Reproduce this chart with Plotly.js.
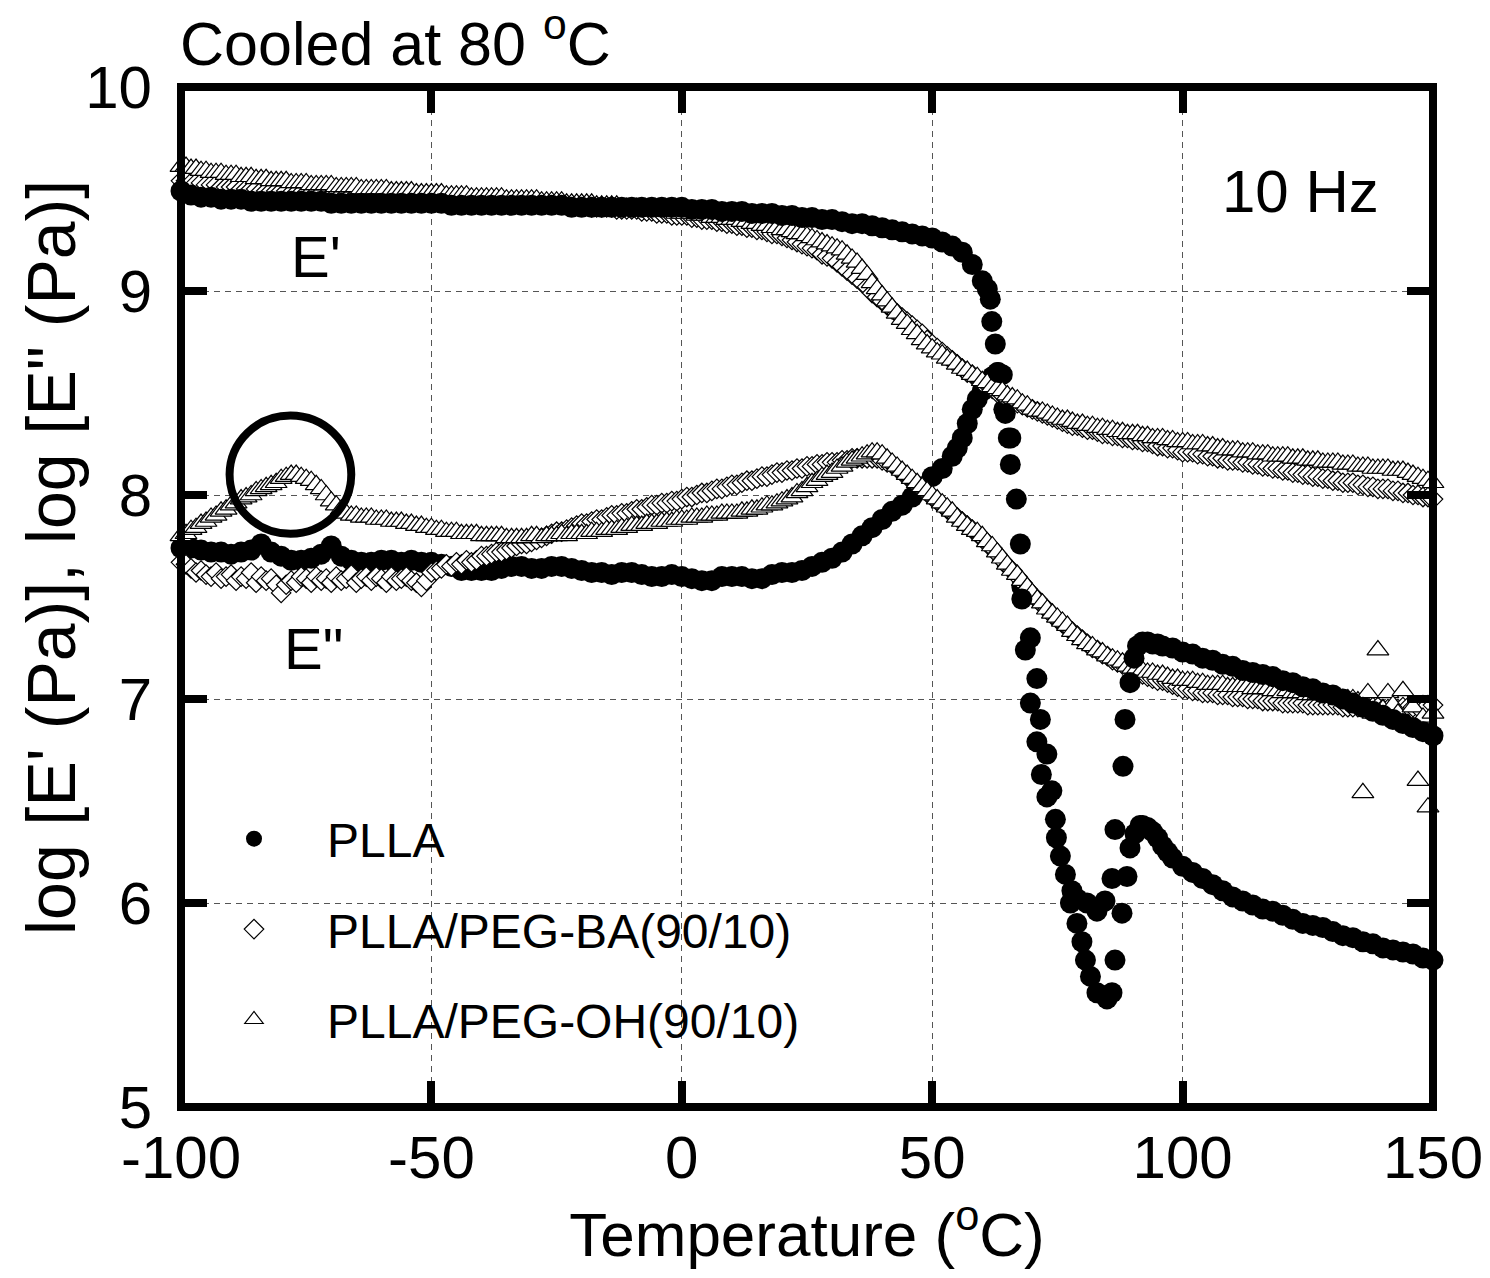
<!DOCTYPE html>
<html>
<head>
<meta charset="utf-8">
<script src="https://cdn.plot.ly/plotly-3.0.1.min.js"></script>
<style>html,body{margin:0;padding:0;background:#fff;} #chart{width:1490px;height:1278px;}</style>
</head>
<body>
<div id="chart"></div>
<script>
// ---------- data ----------
const seriesNames = ['PLLA', 'PLLA/PEG-BA(90/10)', 'PLLA/PEG-OH(90/10)'];
const xTicks = [-100, -50, 0, 50, 100, 150];
const yTicks = [5, 6, 7, 8, 9, 10];

// temperature grid for the blend samples (°C)
const temps = [
-100,-99,-98,-97,-96,-95,-94,-93,-92,-91,
-90,-89,-88,-87,-86,-85,-84,-83,-82,-81,
-80,-79,-78,-77,-76,-75,-74,-73,-72,-71,
-70,-69,-68,-67,-66,-65,-64,-63,-62,-61,
-60,-59,-58,-57,-56,-55,-54,-53,-52,-51,
-50,-49,-48,-47,-46,-45,-44,-43,-42,-41,
-40,-39,-38,-37,-36,-35,-34,-33,-32,-31,
-30,-29,-28,-27,-26,-25,-24,-23,-22,-21,
-20,-19,-18,-17,-16,-15,-14,-13,-12,-11,
-10,-9,-8,-7,-6,-5,-4,-3,-2,-1,
0,1,2,3,4,5,6,7,8,9,
10,11,12,13,14,15,16,17,18,19,
20,21,22,23,24,25,26,27,28,29,
30,31,32,33,34,35,36,37,38,39,
40,41,42,43,44,45,46,47,48,49,
50,51,52,53,54,55,56,57,58,59,
60,61,62,63,64,65,66,67,68,69,
70,71,72,73,74,75,76,77,78,79,
80,81,82,83,84,85,86,87,88,89,
90,91,92,93,94,95,96,97,98,99,
100,101,102,103,104,105,106,107,108,109,
110,111,112,113,114,115,116,117,118,119,
120,121,122,123,124,125,126,127,128,129,
130,131,132,133,134,135,136,137,138,139,
140,141,142,143,144,145,146,147,148,149,
150];

// PLLA/PEG-OH(90/10): log E' (triangles, upper)
const ohStorage = [
9.61,9.61,9.60,9.60,9.59,9.59,9.58,9.58,9.58,9.57,
9.57,9.57,9.56,9.56,9.56,9.55,9.55,9.55,9.54,9.54,
9.54,9.54,9.53,9.53,9.53,9.53,9.52,9.52,9.52,9.52,
9.52,9.51,9.51,9.51,9.51,9.51,9.50,9.50,9.50,9.50,
9.50,9.50,9.49,9.49,9.49,9.49,9.49,9.48,9.48,9.48,
9.48,9.48,9.48,9.47,9.47,9.47,9.47,9.47,9.46,9.46,
9.46,9.46,9.46,9.46,9.46,9.45,9.45,9.45,9.45,9.45,
9.45,9.45,9.44,9.44,9.44,9.44,9.44,9.43,9.43,9.43,
9.43,9.43,9.43,9.42,9.42,9.42,9.42,9.42,9.41,9.41,
9.41,9.41,9.40,9.40,9.40,9.40,9.39,9.39,9.39,9.38,
9.38,9.38,9.38,9.37,9.37,9.37,9.36,9.36,9.36,9.35,
9.35,9.35,9.34,9.34,9.33,9.33,9.32,9.32,9.31,9.31,
9.30,9.30,9.29,9.28,9.28,9.27,9.26,9.25,9.24,9.23,
9.22,9.21,9.20,9.18,9.16,9.14,9.11,9.08,9.04,9.01,
8.98,8.95,8.92,8.89,8.86,8.84,8.81,8.79,8.76,8.74,
8.72,8.70,8.69,8.67,8.66,8.64,8.62,8.61,8.59,8.58,
8.56,8.55,8.53,8.52,8.51,8.49,8.48,8.47,8.45,8.44,
8.42,8.41,8.41,8.40,8.39,8.38,8.37,8.37,8.36,8.35,
8.35,8.34,8.34,8.33,8.33,8.32,8.32,8.31,8.31,8.30,
8.30,8.30,8.29,8.29,8.28,8.28,8.28,8.27,8.27,8.26,
8.26,8.26,8.25,8.25,8.25,8.24,8.24,8.23,8.23,8.22,
8.22,8.22,8.21,8.21,8.21,8.20,8.20,8.20,8.19,8.19,
8.19,8.19,8.18,8.18,8.18,8.17,8.17,8.17,8.16,8.16,
8.16,8.16,8.15,8.15,8.15,8.14,8.14,8.14,8.13,8.13,
8.13,8.13,8.12,8.12,8.12,8.11,8.10,8.09,8.08,8.07,
8.06];

// PLLA/PEG-OH(90/10): log E'' (triangles, lower)
const ohLoss = [
7.80,7.81,7.83,7.84,7.86,7.87,7.89,7.90,7.92,7.93,
7.95,7.96,7.98,7.99,8.00,8.02,8.03,8.04,8.05,8.06,
8.08,8.09,8.10,8.10,8.09,8.08,8.07,8.05,8.03,8.00,
7.97,7.95,7.93,7.91,7.90,7.90,7.89,7.89,7.89,7.88,
7.88,7.88,7.87,7.87,7.87,7.86,7.86,7.85,7.85,7.84,
7.84,7.83,7.83,7.82,7.82,7.82,7.81,7.81,7.81,7.81,
7.80,7.80,7.80,7.80,7.80,7.79,7.79,7.79,7.79,7.79,
7.80,7.80,7.79,7.80,7.80,7.80,7.81,7.80,7.81,7.81,
7.81,7.81,7.82,7.82,7.82,7.83,7.83,7.83,7.84,7.84,
7.85,7.85,7.85,7.86,7.86,7.86,7.87,7.87,7.87,7.88,
7.88,7.88,7.89,7.89,7.89,7.90,7.90,7.90,7.91,7.91,
7.91,7.91,7.92,7.92,7.93,7.93,7.94,7.95,7.95,7.96,
7.97,7.98,7.99,8.01,8.02,8.04,8.06,8.07,8.09,8.10,
8.11,8.13,8.14,8.16,8.17,8.18,8.19,8.20,8.21,8.21,
8.20,8.18,8.16,8.14,8.12,8.10,8.08,8.06,8.04,8.02,
8.00,7.98,7.96,7.94,7.92,7.89,7.87,7.85,7.83,7.82,
7.80,7.77,7.75,7.72,7.69,7.66,7.63,7.61,7.58,7.55,
7.52,7.49,7.47,7.44,7.42,7.40,7.38,7.36,7.33,7.31,
7.29,7.27,7.26,7.24,7.23,7.21,7.20,7.19,7.18,7.16,
7.15,7.15,7.14,7.13,7.13,7.12,7.12,7.11,7.10,7.10,
7.09,7.09,7.09,7.08,7.08,7.07,7.07,7.07,7.07,7.06,
7.06,7.06,7.06,7.06,7.05,7.05,7.05,7.05,7.04,7.04,
7.03,7.04,7.03,7.03,7.03,7.02,7.02,7.02,7.02,7.01,
7.01,7.01,7.00,7.00,7.00,6.99,6.54,7.03,6.93,7.24,
6.95,7.03,6.97,6.93,7.04,6.88,6.96,6.60,6.91,6.47,
6.93];

// PLLA/PEG-BA(90/10): log E' (diamonds, upper)
const baStorage = [
9.54,9.54,9.53,9.53,9.53,9.52,9.52,9.52,9.51,9.51,
9.51,9.51,9.50,9.50,9.50,9.50,9.49,9.49,9.49,9.49,
9.49,9.49,9.48,9.48,9.48,9.48,9.48,9.48,9.48,9.47,
9.47,9.47,9.47,9.47,9.47,9.47,9.47,9.47,9.47,9.47,
9.47,9.47,9.46,9.46,9.46,9.46,9.46,9.46,9.46,9.46,
9.46,9.46,9.46,9.46,9.46,9.45,9.45,9.45,9.45,9.45,
9.45,9.45,9.45,9.45,9.44,9.44,9.44,9.44,9.44,9.44,
9.44,9.43,9.43,9.43,9.43,9.43,9.43,9.42,9.42,9.42,
9.42,9.42,9.41,9.41,9.41,9.41,9.41,9.40,9.40,9.40,
9.40,9.40,9.39,9.39,9.39,9.38,9.38,9.38,9.37,9.37,
9.37,9.37,9.36,9.36,9.35,9.35,9.35,9.34,9.34,9.33,
9.33,9.32,9.32,9.31,9.31,9.30,9.30,9.29,9.28,9.28,
9.27,9.26,9.25,9.24,9.23,9.22,9.21,9.20,9.18,9.17,
9.16,9.14,9.12,9.10,9.08,9.06,9.04,9.02,8.99,8.97,
8.95,8.93,8.91,8.89,8.87,8.85,8.83,8.81,8.79,8.76,
8.74,8.72,8.70,8.68,8.66,8.64,8.62,8.60,8.59,8.57,
8.55,8.54,8.52,8.50,8.49,8.47,8.46,8.45,8.44,8.43,
8.42,8.41,8.40,8.39,8.38,8.37,8.36,8.35,8.34,8.34,
8.33,8.32,8.32,8.31,8.30,8.30,8.29,8.29,8.28,8.28,
8.27,8.27,8.26,8.26,8.25,8.24,8.24,8.23,8.23,8.22,
8.21,8.21,8.21,8.20,8.20,8.19,8.19,8.18,8.18,8.17,
8.17,8.17,8.16,8.16,8.15,8.15,8.14,8.14,8.13,8.13,
8.12,8.12,8.11,8.11,8.10,8.10,8.09,8.09,8.08,8.08,
8.07,8.07,8.06,8.06,8.06,8.05,8.05,8.04,8.04,8.03,
8.03,8.03,8.02,8.02,8.01,8.01,8.00,8.00,7.99,7.99,
7.98];

// PLLA/PEG-BA(90/10): log E'' (diamonds, lower)
const baLoss = [
7.67,7.66,7.64,7.62,7.63,7.61,7.60,7.62,7.59,7.60,
7.61,7.58,7.60,7.59,7.62,7.57,7.60,7.58,7.59,7.56,
7.52,7.56,7.58,7.57,7.60,7.59,7.57,7.60,7.58,7.59,
7.57,7.60,7.58,7.59,7.61,7.57,7.59,7.60,7.58,7.60,
7.59,7.57,7.60,7.58,7.59,7.60,7.58,7.57,7.55,7.58,
7.62,7.63,7.64,7.66,7.65,7.67,7.66,7.68,7.67,7.68,
7.70,7.70,7.71,7.72,7.72,7.73,7.74,7.75,7.76,7.76,
7.77,7.78,7.79,7.80,7.81,7.82,7.82,7.83,7.84,7.85,
7.86,7.86,7.87,7.88,7.88,7.89,7.90,7.90,7.91,7.91,
7.92,7.93,7.93,7.94,7.95,7.95,7.96,7.96,7.97,7.97,
7.98,7.99,7.99,8.00,8.01,8.01,8.02,8.03,8.03,8.04,
8.05,8.05,8.06,8.07,8.07,8.08,8.09,8.09,8.10,8.11,
8.11,8.12,8.12,8.13,8.13,8.14,8.14,8.15,8.15,8.16,
8.16,8.16,8.17,8.17,8.18,8.18,8.18,8.18,8.18,8.18,
8.17,8.16,8.15,8.13,8.11,8.09,8.07,8.05,8.03,8.01,
7.99,7.97,7.95,7.93,7.91,7.89,7.87,7.85,7.83,7.81,
7.79,7.76,7.74,7.71,7.68,7.65,7.63,7.60,7.57,7.54,
7.51,7.49,7.46,7.44,7.41,7.39,7.37,7.35,7.33,7.31,
7.29,7.27,7.25,7.24,7.22,7.21,7.19,7.18,7.17,7.16,
7.14,7.13,7.12,7.11,7.10,7.09,7.09,7.08,7.07,7.06,
7.05,7.05,7.04,7.04,7.03,7.03,7.03,7.02,7.02,7.02,
7.01,7.01,7.01,7.00,7.00,7.00,6.99,6.99,6.99,6.99,
6.98,6.98,6.98,6.98,6.98,6.97,6.97,6.97,6.97,6.97,
6.97,6.97,6.96,6.96,6.96,6.96,6.96,6.96,6.96,6.96,
6.95,6.95,6.95,6.95,6.96,6.96,6.96,6.96,6.97,6.97,
6.97];

// PLLA: log E' (filled circles)
const pllaStorageT = [
-100,-98,-96,-94,-92,-90,-88,-86,-84,-82,-80,-78,-76,-74,-72,-70,-68,-66,-64,-62,
-60,-58,-56,-54,-52,-50,-48,-46,-44,-42,-40,-38,-36,-34,-32,-30,-28,-26,-24,-22,
-20,-18,-16,-14,-12,-10,-8,-6,-4,-2,0,2,4,6,8,10,12,14,16,18,
20,22,24,26,28,30,32,34,36,38,40,42,44,46,48,50,52,54,56,58,60,
61.0,61.6,61.9,62.6,63.2,64.6,65.2,65.6,66.8,67.6,67.9,68.6,69.6,70.9,71.8,72.9,74.6,
75.6,76.6,77.6,78.9,79.9,80.6,81.6,82.9,84.9,85.9,86.5,87.9,88.1,88.5,89.5,90.3,91.0,
92,93,94,95,96,98,100,102,104,106,108,110,112,114,116,118,120,122,124,126,
128,130,132,134,136,138,140,142,144,146,148,150];
const pllaStorage = [
9.49,9.47,9.46,9.46,9.45,9.45,9.45,9.44,9.44,9.44,9.44,9.44,9.44,9.44,9.44,9.43,9.43,9.43,9.43,9.43,
9.43,9.43,9.43,9.43,9.43,9.43,9.43,9.42,9.42,9.42,9.42,9.42,9.42,9.42,9.42,9.42,9.42,9.42,9.42,9.41,
9.41,9.41,9.41,9.41,9.41,9.41,9.41,9.41,9.41,9.41,9.41,9.40,9.40,9.40,9.39,9.39,9.39,9.38,9.38,9.38,
9.37,9.37,9.36,9.36,9.35,9.35,9.34,9.33,9.33,9.32,9.31,9.30,9.29,9.28,9.27,9.26,9.24,9.22,9.19,9.13,9.05,
9.01,8.96,8.85,8.74,8.60,8.40,8.28,8.15,7.98,7.76,7.49,7.24,6.98,6.79,6.63,6.52,6.41,
6.23,6.14,6.00,5.90,5.81,5.72,5.64,5.56,5.53,5.56,5.72,5.95,6.67,6.90,7.08,7.20,7.26,
7.28,7.28,7.27,7.27,7.26,7.25,7.23,7.22,7.20,7.19,7.17,7.16,7.14,7.13,7.12,7.11,7.09,7.08,7.06,7.05,
7.03,7.02,7.00,6.98,6.96,6.94,6.92,6.90,6.88,6.86,6.84,6.82];

// PLLA: log E'' (filled circles)
const pllaLossT = [
-100,-98,-96,-94,-92,-90,-88,-86,-84,-82,-80,-78,-76,-74,-72,-70,-68,-66,-64,-62,
-60,-58,-56,-54,-52,-50,-48,-46,-44,-42,-40,-38,-36,-34,-32,-30,-28,-26,-24,-22,
-20,-18,-16,-14,-12,-10,-8,-6,-4,-2,0,2,4,6,8,10,12,14,16,18,
20,22,24,26,28,30,32,34,36,38,40,42,44,46,48,50,52,54,56,58,60,62,
55,57,59,61,63,64,64.3,65.7,67.9,69.6,70.9,71.6,72.9,73.9,74.8,
77.9,79.0,80.9,82.9,84.5,85.9,86.5,88.9,89.5,90.5,91.5,
92,93,94,95,96,97,98,100,102,104,106,108,110,112,114,116,118,120,122,124,
126,128,130,132,134,136,138,140,142,144,146,148,150];
const pllaLoss = [
7.74,7.74,7.73,7.72,7.72,7.71,7.72,7.73,7.76,7.72,7.70,7.68,7.68,7.69,7.71,7.75,7.70,7.68,7.67,7.67,
7.68,7.68,7.67,7.68,7.67,7.67,7.66,7.65,7.63,7.63,7.63,7.63,7.64,7.65,7.65,7.64,7.64,7.65,7.65,7.64,
7.63,7.62,7.62,7.61,7.62,7.62,7.61,7.60,7.60,7.61,7.60,7.59,7.58,7.58,7.60,7.60,7.60,7.59,7.59,7.61,
7.62,7.62,7.63,7.65,7.67,7.69,7.72,7.76,7.80,7.84,7.88,7.92,7.95,7.99,8.04,8.09,8.13,8.19,8.28,8.42,8.51,8.58,
8.23,8.35,8.47,8.55,8.60,8.59,8.42,8.28,7.55,7.30,7.10,6.90,6.73,6.55,6.32,
6.06,6.02,6.00,5.96,6.01,6.12,6.36,6.13,6.27,6.34,6.38,
6.38,6.37,6.35,6.32,6.28,6.25,6.22,6.18,6.15,6.12,6.09,6.06,6.03,6.01,5.99,5.97,5.96,5.94,5.92,5.90,
5.89,5.88,5.86,5.84,5.83,5.81,5.80,5.78,5.77,5.76,5.75,5.73,5.72];

// text labels placed in data units
const labelEprime = {x: -73, y: 9.17};
const labelEdouble = {x: -73.5, y: 7.25};
const labelFreq = {x: 123.5, y: 9.49};
const highlightRing = {x0: -90.3, x1: -66.0, y0: 7.81, y1: 8.39};

// ---------- drawing ----------
const FONT = 'Liberation Sans, Arial, Helvetica, sans-serif';
const openMarker = (symbol, size) => ({symbol: symbol, size: size, color: '#ffffff', line: {color: '#000000', width: 1.2}});
const dotMarker = {symbol: 'circle', size: 21, color: '#000000', line: {width: 0}};

const traces = [
  {x: pllaLossT, y: pllaLoss, name: seriesNames[0], legendgroup: 'a', showlegend: true, mode: 'markers', type: 'scatter', marker: dotMarker, cliponaxis: false},
  {x: temps, y: baStorage, name: seriesNames[1], legendgroup: 'b', showlegend: true, mode: 'markers', type: 'scatter', marker: openMarker('diamond', 15), cliponaxis: false},
  {x: temps, y: baLoss, name: seriesNames[1], legendgroup: 'b', showlegend: false, mode: 'markers', type: 'scatter', marker: openMarker('diamond', 15), cliponaxis: false},
  {x: temps, y: ohStorage, name: seriesNames[2], legendgroup: 'c', showlegend: true, mode: 'markers', type: 'scatter', marker: openMarker('triangle-up', 19), cliponaxis: false},
  {x: temps, y: ohLoss, name: seriesNames[2], legendgroup: 'c', showlegend: false, mode: 'markers', type: 'scatter', marker: openMarker('triangle-up', 19), cliponaxis: false},
  {x: pllaStorageT, y: pllaStorage, name: seriesNames[0], legendgroup: 'a', showlegend: false, mode: 'markers', type: 'scatter', marker: dotMarker, cliponaxis: false}
];

const axisCommon = {
  ticks: 'inside', ticklen: 26, tickwidth: 8, tickcolor: '#000',
  mirror: 'ticks', showline: false, zeroline: false,
  showgrid: true, gridcolor: '#555', gridwidth: 1, griddash: '6px,5px',
  tickfont: {family: FONT, size: 60, color: '#000'}
};

const layout = {
  width: 1490, height: 1278,
  margin: {l: 181, r: 57, t: 87, b: 171},
  paper_bgcolor: '#fff', plot_bgcolor: '#fff',
  font: {family: FONT, color: '#000'},
  hovermode: false,
  xaxis: Object.assign({}, axisCommon, {
    range: [-100, 150], tickvals: xTicks, ticktext: xTicks.map(String),
    ticklabelstandoff: 10,
    title: {text: 'Temperature (<sup>o</sup>C)', font: {family: FONT, size: 62, color: '#000'}, standoff: 7}
  }),
  yaxis: Object.assign({}, axisCommon, {
    range: [5, 10], tickvals: yTicks, ticktext: yTicks.map(String),
    ticklabelstandoff: 28
  }),
  legend: {
    x: 0, y: 0.30, xanchor: 'left', yanchor: 'top',
    bgcolor: 'rgba(0,0,0,0)', borderwidth: 0,
    font: {family: FONT, size: 48, color: '#000'},
    itemwidth: 136, tracegroupgap: 25, traceorder: 'grouped', itemsizing: 'trace'
  },
  shapes: [
    {type: 'rect', xref: 'paper', yref: 'paper', x0: 0, x1: 1, y0: 0, y1: 1, line: {color: '#000', width: 8}, layer: 'above'},
    {type: 'circle', xref: 'x', yref: 'y', x0: highlightRing.x0, x1: highlightRing.x1, y0: highlightRing.y0, y1: highlightRing.y1, line: {color: '#000', width: 8}, layer: 'above'}
  ],
  annotations: [
    {text: 'log [E\' (Pa)], log [E" (Pa)]', xref: 'paper', yref: 'paper', x: -0.104, y: 0.539, xanchor: 'center', yanchor: 'middle', textangle: -90, showarrow: false, font: {family: FONT, size: 68, color: '#000'}},
    {text: 'Cooled at 80 <sup>o</sup>C', xref: 'paper', yref: 'paper', x: -0.002, y: 1.047, xanchor: 'left', yanchor: 'middle', showarrow: false, font: {family: FONT, size: 61, color: '#000'}},
    {text: "E'", xref: 'x', yref: 'y', x: labelEprime.x, y: labelEprime.y, showarrow: false, font: {family: FONT, size: 58, color: '#000'}},
    {text: 'E"', xref: 'x', yref: 'y', x: labelEdouble.x, y: labelEdouble.y, showarrow: false, font: {family: FONT, size: 58, color: '#000'}},
    {text: '10 Hz', xref: 'x', yref: 'y', x: labelFreq.x, y: labelFreq.y, showarrow: false, font: {family: FONT, size: 60, color: '#000'}}
  ]
};

Plotly.newPlot('chart', traces, layout, {staticPlot: true, displayModeBar: false});
</script>
</body>
</html>
